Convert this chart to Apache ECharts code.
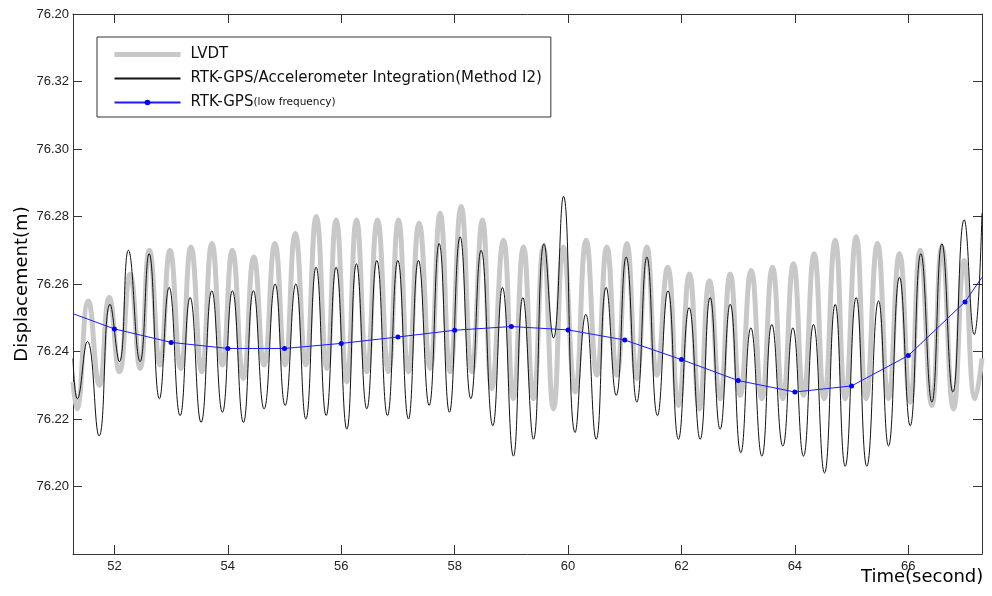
<!DOCTYPE html>
<html><head><meta charset="utf-8">
<script src="https://cdn.jsdelivr.net/npm/echarts@6/dist/echarts.min.js"></script>
<style>html,body{margin:0;padding:0;background:#fff}#c{width:992px;height:596px}</style>
</head><body><div id="c"></div><script>
// ---- data ----
const lvdtTime = [
51.27, 51.337, 51.54, 51.735, 51.91, 52.088, 52.277, 52.453, 52.617, 52.806,
52.98, 53.171, 53.35, 53.541, 53.72, 53.905, 54.08, 54.275, 54.46, 54.64,
54.83, 55.011, 55.19, 55.376, 55.56, 55.746, 55.91, 56.099, 56.27, 56.451,
56.639, 56.833, 57.009, 57.185, 57.374, 57.568, 57.744, 57.921, 58.115, 58.303,
58.49, 58.656, 58.861, 59.037, 59.213, 59.39, 59.566, 59.743, 59.919, 60.125,
60.319, 60.508, 60.684, 60.861, 61.037, 61.213, 61.39, 61.566, 61.757, 61.947,
62.141, 62.317, 62.494, 62.682, 62.859, 63.035, 63.229, 63.418, 63.605, 63.788,
63.975, 64.152, 64.34, 64.517, 64.711, 64.887, 65.081, 65.257, 65.457, 65.651,
65.845, 66.034, 66.21, 66.416, 66.593, 66.797, 66.986, 67.18, 67.3
];
const lvdtValue = [
76.231, 76.223, 76.255, 76.230, 76.256, 76.234, 76.263, 76.235, 76.270, 76.236,
76.270, 76.235, 76.271, 76.234, 76.272, 76.236, 76.270, 76.232, 76.268, 76.236,
76.272, 76.236, 76.275, 76.236, 76.280, 76.235, 76.279, 76.231, 76.279, 76.234,
76.279, 76.234, 76.279, 76.234, 76.278, 76.235, 76.281, 76.234, 76.283, 76.234,
76.279, 76.229, 76.273, 76.226, 76.271, 76.226, 76.271, 76.223, 76.271, 76.228,
76.273, 76.233, 76.271, 76.233, 76.272, 76.232, 76.271, 76.233, 76.265, 76.224,
76.263, 76.223, 76.261, 76.226, 76.263, 76.227, 76.264, 76.226, 76.265, 76.226,
76.266, 76.227, 76.269, 76.226, 76.273, 76.226, 76.274, 76.226, 76.272, 76.226,
76.269, 76.225, 76.270, 76.224, 76.271, 76.223, 76.267, 76.226, 76.238
];
const accTime = [
51.27, 51.347, 51.524, 51.73, 51.924, 52.088, 52.247, 52.453, 52.612, 52.794,
52.965, 53.159, 53.335, 53.529, 53.718, 53.905, 54.081, 54.275, 54.452, 54.64,
54.834, 55.011, 55.199, 55.376, 55.557, 55.734, 55.91, 56.099, 56.269, 56.451,
56.628, 56.815, 56.998, 57.185, 57.362, 57.55, 57.727, 57.908, 58.097, 58.286,
58.467, 58.674, 58.843, 59.037, 59.203, 59.39, 59.578, 59.743, 59.919, 60.125,
60.313, 60.496, 60.672, 60.849, 61.025, 61.213, 61.39, 61.577, 61.762, 61.947,
62.135, 62.33, 62.506, 62.682, 62.859, 63.047, 63.224, 63.418, 63.594, 63.788,
63.965, 64.152, 64.328, 64.522, 64.711, 64.887, 65.081, 65.269, 65.475, 65.651,
65.845, 66.034, 66.222, 66.416, 66.593, 66.786, 66.986, 67.162, 67.3
];
const accValue = [
76.238, 76.226, 76.243, 76.215, 76.254, 76.237, 76.270, 76.237, 76.269, 76.226,
76.259, 76.221, 76.256, 76.219, 76.258, 76.222, 76.258, 76.219, 76.258, 76.223,
76.260, 76.224, 76.260, 76.220, 76.265, 76.221, 76.265, 76.217, 76.266, 76.223,
76.267, 76.221, 76.267, 76.220, 76.267, 76.224, 76.272, 76.222, 76.274, 76.226,
76.270, 76.218, 76.259, 76.209, 76.256, 76.214, 76.272, 76.244, 76.286, 76.216,
76.251, 76.214, 76.259, 76.227, 76.268, 76.225, 76.268, 76.221, 76.258, 76.214,
76.253, 76.214, 76.256, 76.217, 76.254, 76.210, 76.247, 76.209, 76.248, 76.212,
76.247, 76.209, 76.248, 76.204, 76.254, 76.206, 76.256, 76.206, 76.255, 76.212,
76.262, 76.218, 76.269, 76.225, 76.272, 76.228, 76.279, 76.245, 76.281
];
const gpsTime = [52, 53, 54, 55, 56, 57, 58, 59, 60, 61, 62, 63, 64, 65, 66, 67];
const gpsValue = [76.2467, 76.2427, 76.2409, 76.2409, 76.2424, 76.2443, 76.2463, 76.2474,
                  76.2464, 76.2434, 76.2376, 76.2314, 76.2280, 76.2298, 76.2388, 76.2547];
const gpsEdgeTime = [51.27, 67.3];
const gpsEdgeValue = [76.2512, 76.2620];
const yTickLabels = ['', '76.20', '76.22', '76.24', '76.26', '76.28', '76.30', '76.32', '76.20'];
const seriesNames = ['LVDT', 'RTK-GPS/Accelerometer Integration(Method I2)', 'RTK-GPS(low frequency)'];

// ---- build ----
const pairs = (t, v) => t.map((x, i) => [x, v[i]]);
const gpsData = [{ value: [gpsEdgeTime[0], gpsEdgeValue[0]], symbol: 'none' }]
  .concat(pairs(gpsTime, gpsValue))
  .concat([{ value: [gpsEdgeTime[1], gpsEdgeValue[1]], symbol: 'none' }]);

const X_MIN = 51.27, X_MAX = 67.3, Y_MIN = 76.18, Y_MAX = 76.34, Y_INT = 0.02;
const axisColor = '#333';
const labelFont = { fontFamily: 'Liberation Sans', fontSize: 13, color: '#222' };

const chart = echarts.init(document.getElementById('c'), null, { renderer: 'canvas' });
chart.setOption({
  animation: false,
  backgroundColor: '#ffffff',
  grid: { left: 73, right: 10, top: 14, bottom: 42, containLabel: false, outerBoundsMode: 'none' },
  legend: {
    left: 97, top: 37, orient: 'vertical',
    padding: [10, 9, 7, 15],
    itemGap: 9, itemWidth: 66, itemHeight: 7,
    borderColor: '#333', borderWidth: 1, backgroundColor: '#fff',
    data: [
      { name: seriesNames[0], itemStyle: { opacity: 0, borderWidth: 0 }, lineStyle: { width: 5, color: '#c8c8c8' } },
      { name: seriesNames[1], itemStyle: { opacity: 0, borderWidth: 0 } },
      { name: seriesNames[2] }
    ],
    textStyle: {
      fontFamily: 'DejaVu Sans', fontSize: 15, color: '#111', padding: [0, 0, 0, 5],
      rich: {
        a: { fontFamily: 'DejaVu Sans', fontSize: 15, color: '#111' },
        b: { fontFamily: 'DejaVu Sans', fontSize: 10.5, color: '#111' }
      }
    },
    formatter: function (name) {
      if (name === seriesNames[2]) return '{a|RTK-GPS}{b|(low frequency)}';
      return name;
    }
  },
  xAxis: [{
    type: 'value', min: X_MIN, max: X_MAX, splitNumber: 8, position: 'bottom',
    name: 'Time(second)', nameLocation: 'end', nameGap: -121, nameMoveOverlap: false,
    nameTextStyle: { fontFamily: 'DejaVu Sans', fontSize: 18, color: '#000', align: 'left', verticalAlign: 'top', padding: [14, 0, 0, 0] },
    axisLine: { show: true, lineStyle: { color: axisColor, width: 1 } },
    axisTick: { show: true, inside: true, length: 9, lineStyle: { color: axisColor } },
    axisLabel: Object.assign({ margin: 6, showMinLabel: false, showMaxLabel: false }, labelFont),
    splitLine: { show: false }
  }, {
    type: 'value', min: X_MIN, max: X_MAX, splitNumber: 8, position: 'top',
    axisLine: { show: true, lineStyle: { color: axisColor, width: 1 } },
    axisTick: { show: true, inside: true, length: 9, lineStyle: { color: axisColor } },
    axisLabel: { show: false }, splitLine: { show: false }
  }],
  yAxis: [{
    type: 'value', min: Y_MIN, max: Y_MAX, interval: Y_INT, position: 'left',
    name: 'Displacement(m)', nameLocation: 'middle', nameGap: 42, nameRotate: 90, nameMoveOverlap: false,
    nameTextStyle: { fontFamily: 'DejaVu Sans', fontSize: 18, color: '#000' },
    axisLine: { show: true, lineStyle: { color: axisColor, width: 1 } },
    axisTick: { show: true, inside: true, length: 9, lineStyle: { color: axisColor } },
    axisLabel: Object.assign({
      margin: 4,
      formatter: function (v) { const i = Math.round((v - Y_MIN) / Y_INT); return yTickLabels[i] !== undefined ? yTickLabels[i] : ''; }
    }, labelFont),
    splitLine: { show: false }
  }, {
    type: 'value', min: Y_MIN, max: Y_MAX, interval: Y_INT, position: 'right',
    axisLine: { show: true, lineStyle: { color: axisColor, width: 1 } },
    axisTick: { show: true, inside: true, length: 9, lineStyle: { color: axisColor } },
    axisLabel: { show: false }, splitLine: { show: false }
  }],
  series: [{
    name: seriesNames[0], type: 'line', xAxisIndex: 0, yAxisIndex: 0,
    data: pairs(lvdtTime, lvdtValue), smooth: 0.5, symbol: 'none',
    lineStyle: { color: '#c8c8c8', width: 5 }, itemStyle: { color: '#c8c8c8' }, z: 2
  }, {
    name: seriesNames[1], type: 'line', xAxisIndex: 0, yAxisIndex: 0,
    data: pairs(accTime, accValue), smooth: 0.5, symbol: 'none',
    lineStyle: { color: '#111', width: 1 }, itemStyle: { color: '#111' }, z: 3
  }, {
    name: seriesNames[2], type: 'line', xAxisIndex: 0, yAxisIndex: 0,
    data: gpsData, smooth: false, symbol: 'circle', symbolSize: 5, showAllSymbol: true,
    lineStyle: { color: '#1a1aff', width: 1 }, itemStyle: { color: '#0000ff' }, z: 4
  }]
});
</script></body></html>
